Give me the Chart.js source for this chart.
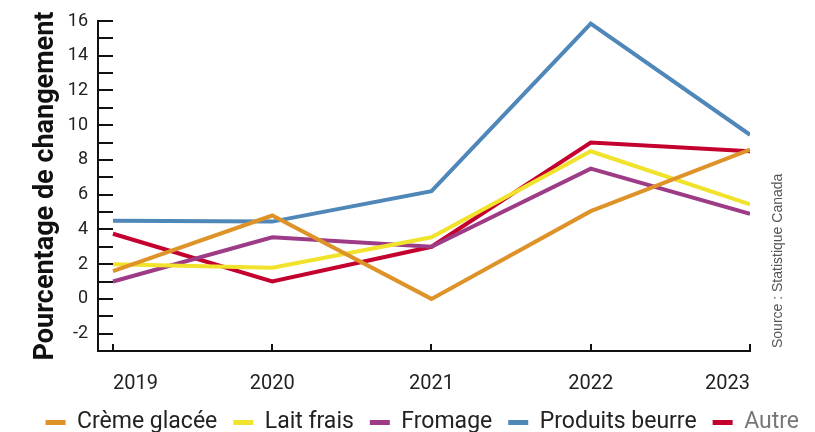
<!DOCTYPE html>
<html lang="fr">
<head>
<meta charset="UTF-8">
<title>Pourcentage de changement</title>
<style>
  html, body { margin: 0; padding: 0; background: #fff; }
  #wrap { width: 815px; height: 432px; }
</style>
</head>
<body>
<script src="https://cdn.jsdelivr.net/npm/chart.js@4.4.1/dist/chart.umd.min.js"></script>
<div id="wrap"><canvas id="chart" width="815" height="432"></canvas></div>
<script>
    var years = [2019, 2020, 2021, 2022, 2023];
    var seriesNames = ['Crème glacée', 'Lait frais', 'Fromage', 'Produits beurre', 'Autre'];
    var cremeGlacee = [1.6, 4.8, 0.0, 5.05, 8.6];
    var laitFrais = [2.0, 1.8, 3.55, 8.5, 5.45];
    var fromage = [1.0, 3.55, 3.0, 7.5, 4.9];
    var produitsBeurre = [4.5, 4.45, 6.2, 15.85, 9.45];
    var autre = [3.75, 1.0, 3.0, 9.0, 8.5];
    var yTicks = [-2, 0, 2, 4, 6, 8, 10, 12, 14, 16];
    var colors = ['#de9329', '#f1e22b', '#9d3b86', '#4f87b9', '#c4002f'];
    var allValues = [cremeGlacee, laitFrais, fromage, produitsBeurre, autre];

    function toPoints(vals) {
        var pts = [];
        for (var i = 0; i < years.length; i++) {
            pts.push({x: years[i], y: vals[i]});
        }
        return pts;
    }

    var datasets = [];
    for (var i = 0; i < seriesNames.length; i++) {
        datasets.push({
            label: seriesNames[i],
            data: toPoints(allValues[i]),
            borderColor: colors[i],
            backgroundColor: colors[i],
            borderWidth: 4,
            pointRadius: 0,
            tension: 0
        });
    }

    // source note written vertically on the right
    var sourceNote = {
        id: 'sourceNote',
        afterDraw: function (chart) {
            var ctx = chart.ctx;
            ctx.save();
            ctx.translate(782, 348);
            ctx.rotate(-Math.PI / 2);
            ctx.font = '14px "Liberation Sans", Arial, sans-serif';
            ctx.fillStyle = '#555';
            ctx.textAlign = 'left';
            ctx.textBaseline = 'alphabetic';
            ctx.fillText('Source : Statistique Canada', 0, 0);
            ctx.restore();
        }
    };

    Chart.defaults.font.family = 'Roboto, "Noto Sans", sans-serif';
    Chart.defaults.color = '#222';

    new Chart(document.getElementById('chart'), {
        type: 'line',
        data: {datasets: datasets},
        plugins: [sourceNote],
        options: {
            responsive: false,
            animation: false,
            layout: {padding: {top: 21, right: 0, left: 0, bottom: -12}},
            plugins: {
                tooltip: {enabled: false},
                legend: {
                    position: 'bottom',
                    align: 'end',
                    labels: {
                        boxWidth: 20,
                        boxHeight: 5,
                        padding: 16,
                        font: {size: 23},
                        generateLabels: function (chart) {
                            var items = Chart.defaults.plugins.legend.labels.generateLabels(chart);
                            items.forEach(function (it, idx) {
                                it.lineWidth = 0;
                                it.strokeStyle = 'rgba(0,0,0,0)';
                                it.fontColor = idx === items.length - 1 ? '#777' : '#222';
                            });
                            return items;
                        }
                    }
                }
            },
            scales: {
                x: {
                    type: 'linear',
                    min: 2019 - 15 / 159.25,
                    max: 2023,
                    afterBuildTicks: function (scale) {
                        scale.ticks = years.map(function (y) { return {value: y}; });
                    },
                    afterFit: function (scale) { scale.height = 44; },
                    border: {color: '#111', width: 2},
                    grid: {drawOnChartArea: false, color: '#111', lineWidth: 2, tickLength: -7},
                    ticks: {
                        align: 'inner',
                        padding: 28,
                        maxRotation: 0,
                        autoSkip: false,
                        font: {size: 20},
                        color: '#222',
                        callback: function (v) { return String(v); }
                    }
                },
                y: {
                    min: -3,
                    max: 16,
                    afterBuildTicks: function (scale) {
                        var t = [];
                        for (var v = -3; v <= 16; v++) t.push({value: v});
                        scale.ticks = t;
                    },
                    afterFit: function (scale) {
                        scale.width = 98;
                        scale.paddingTop = 8;
                        scale.paddingBottom = 8;
                    },
                    border: {color: '#111', width: 2},
                    grid: {drawOnChartArea: false, color: '#111', lineWidth: 2, tickLength: -15},
                    ticks: {
                        autoSkip: false,
                        padding: 25,
                        font: {size: 18},
                        color: '#222',
                        callback: function (v) { return yTicks.indexOf(v) >= 0 ? String(v) : ''; }
                    },
                    title: {
                        display: true,
                        text: 'Pourcentage de changement',
                        color: '#111',
                        font: {size: 27, weight: 'bold'},
                        padding: {top: 30, bottom: 0}
                    }
                },
                // empty right-hand gutter that holds the source note
                gutter: {
                    type: 'linear',
                    position: 'right',
                    afterFit: function (scale) { scale.width = 65; },
                    border: {display: false},
                    grid: {display: false},
                    ticks: {display: false}
                }
            }
        }
    });
</script>
</body>
</html>
